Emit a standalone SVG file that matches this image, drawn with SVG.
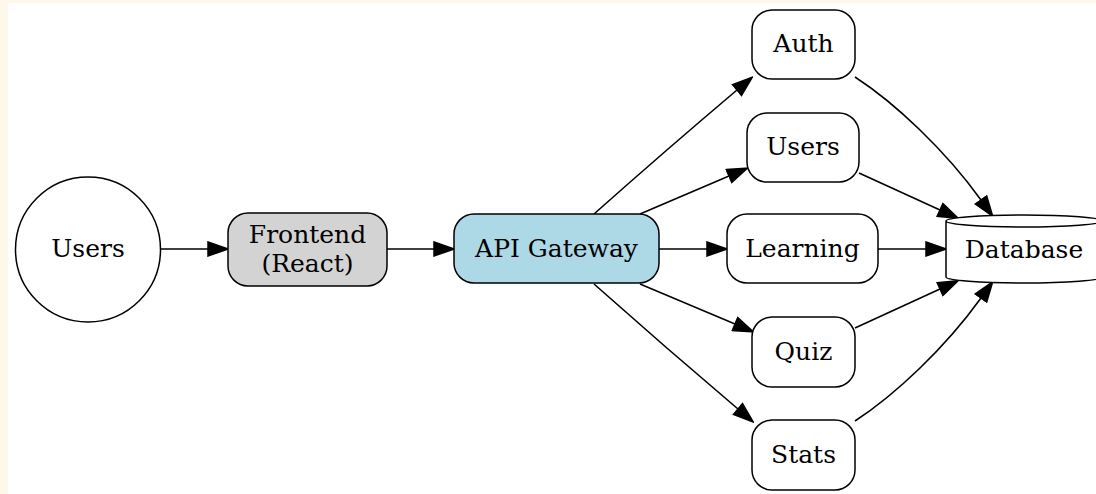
<svg xmlns="http://www.w3.org/2000/svg" width="1096" height="494" viewBox="0 0 1096 494">
  <style>
    .node { stroke: #000; stroke-width: 1.5; }
    .plain { fill: #fff; }
    .label { font-family: "DejaVu Serif", serif; font-size: 25px; fill: #000; text-anchor: middle; dominant-baseline: central; }
    .edge { fill: none; stroke: #000; stroke-width: 1.6; marker-end: url(#arrow); }
  </style>
  <defs>
    <marker id="arrow" markerUnits="userSpaceOnUse" markerWidth="22" markerHeight="16" viewBox="0 0 22 16" refX="1" refY="8" orient="auto">
      <path d="M1,1 L21,8 L1,15 z" fill="#000" stroke="#000" stroke-width="1.5"/>
    </marker>
  </defs>

  <!-- page background -->
  <rect x="0" y="0" width="1096" height="494" fill="#fdf8ea"/>
  <rect x="8" y="3" width="1088" height="491" fill="#fff"/>

  <!-- connectors -->
  <g id="edges">
    <path class="edge" d="M160,249 L208,249"/>
    <path class="edge" d="M387,249 L434,249"/>
    <path class="edge" d="M594,214 Q666,150 737,90"/>
    <path class="edge" d="M640,214 L729,176"/>
    <path class="edge" d="M659,249 L707,249"/>
    <path class="edge" d="M640,284 L735,324"/>
    <path class="edge" d="M594,284 Q666,348 738,409"/>
    <path class="edge" d="M855,77 C895,103 945,150 981,200"/>
    <path class="edge" d="M859,173 L940,210"/>
    <path class="edge" d="M878,249 L926,249"/>
    <path class="edge" d="M855,328 L940,289"/>
    <path class="edge" d="M855,421 C895,395 945,348 981,298"/>
  </g>

  <g id="users">
    <circle class="node plain" cx="88" cy="249.5" r="72.5"/>
    <text class="label" x="88" y="248">Users</text>
  </g>

  <g id="frontend">
    <rect class="node" x="228" y="213" width="159" height="73" rx="20" fill="#d3d3d3"/>
    <text class="label" x="307.5" y="234">Frontend</text>
    <text class="label" x="307.5" y="263">(React)</text>
  </g>

  <g id="api-gateway">
    <rect class="node" x="454" y="214" width="205" height="69" rx="20" fill="#add8e6"/>
    <text class="label" x="556.5" y="248">API Gateway</text>
  </g>

  <g id="auth-service">
    <rect class="node plain" x="752" y="10" width="103" height="69" rx="20"/>
    <text class="label" x="803.5" y="43">Auth</text>
  </g>

  <g id="users-service">
    <rect class="node plain" x="747" y="113" width="112" height="69" rx="20"/>
    <text class="label" x="803" y="146">Users</text>
  </g>

  <g id="learning-service">
    <rect class="node plain" x="727" y="214" width="151" height="69" rx="20"/>
    <text class="label" x="802.5" y="248">Learning</text>
  </g>

  <g id="quiz-service">
    <rect class="node plain" x="752" y="317" width="103" height="70" rx="20"/>
    <text class="label" x="803.5" y="351">Quiz</text>
  </g>

  <g id="stats-service">
    <rect class="node plain" x="752" y="420" width="103" height="70" rx="20"/>
    <text class="label" x="803.5" y="454">Stats</text>
  </g>

  <g id="database">
    <path class="node plain" d="M946,221 L946,277 A78,6 0 0 0 1102,277 L1102,221 A78,6 0 0 0 946,221 A78,6 0 0 0 1102,221"/>
    <text class="label" x="1024" y="249">Database</text>
  </g>
</svg>
